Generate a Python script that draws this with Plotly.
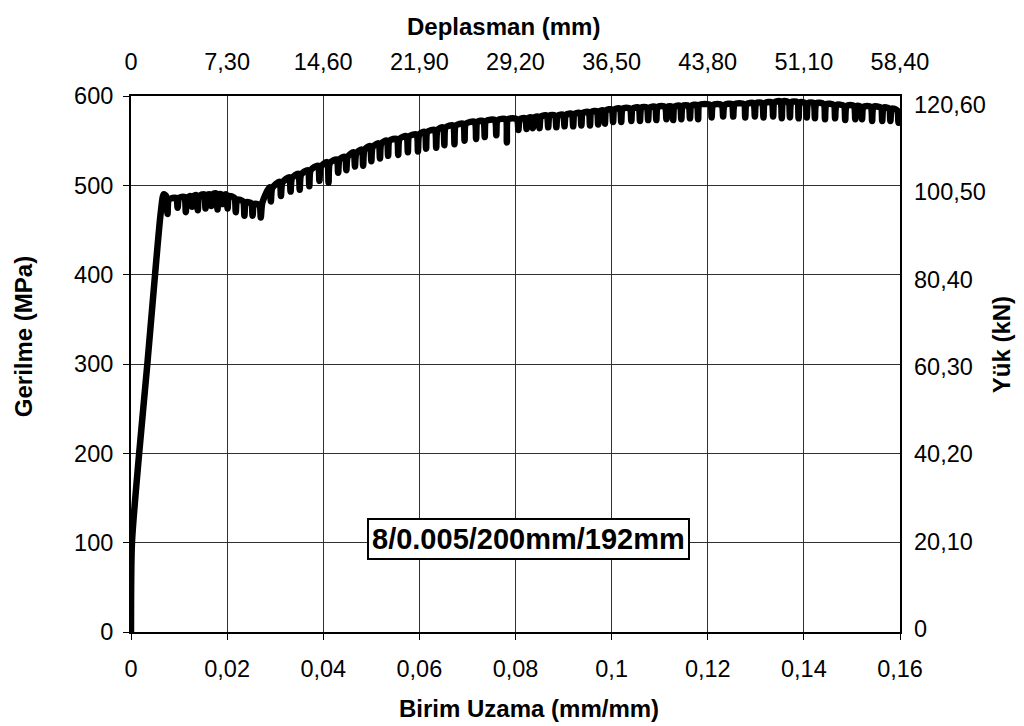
import plotly.graph_objects as go

# ---------------- data ----------------
# elastic part: strain (mm/mm) / stress (MPa)
elastic_strain = [0.0, 0.0002, 0.0017, 0.0034, 0.0050, 0.0062, 0.0068]
elastic_stress = [0, 100, 200, 300, 400, 470, 490]

# yield plateau with serrations
plateau_strain = [0.0073, 0.0076, 0.0079, 0.0094, 0.0097, 0.0100, 0.0111, 0.0114, 0.0117,
                  0.0124, 0.0127, 0.0130, 0.0136, 0.0139, 0.0142, 0.0152, 0.0155, 0.0158,
                  0.0164, 0.0167, 0.0170, 0.0177, 0.0180, 0.0183, 0.0187, 0.0190, 0.0193,
                  0.0198, 0.0201, 0.0204, 0.0215, 0.0218, 0.0221, 0.0233, 0.0236, 0.0239,
                  0.0250, 0.0253, 0.0256, 0.0267, 0.0270, 0.0273]
plateau_stress = [488, 468, 484, 486, 475, 486, 487, 470, 486,
                  488, 476, 488, 489, 472, 488, 490, 474, 489,
                  490, 477, 490, 491, 473, 490, 490, 479, 489,
                  490, 474, 488, 486, 470, 484, 482, 466, 481,
                  480, 466, 479, 478, 464, 480]

# strain hardening with serrations
hard_strain = [
    0.0288, 0.0291, 0.0294, 0.0309, 0.0312, 0.0315, 0.0329, 0.0332, 0.0335,
    0.0348, 0.0351, 0.0354, 0.0368, 0.0371, 0.0374, 0.0389, 0.0392, 0.0395,
    0.0408, 0.0411, 0.0414, 0.0428, 0.0431, 0.0434, 0.0445, 0.0448, 0.0451,
    0.0463, 0.0466, 0.0469, 0.0480, 0.0483, 0.0486, 0.0497, 0.0500, 0.0503,
    0.0515, 0.0518, 0.0521, 0.0532, 0.0535, 0.0538, 0.0553, 0.0556, 0.0559,
    0.0573, 0.0576, 0.0579, 0.0594, 0.0597, 0.0600, 0.0611, 0.0614, 0.0617,
    0.0632, 0.0635, 0.0638, 0.0649, 0.0652, 0.0655, 0.0670, 0.0673, 0.0676,
    0.0691, 0.0694, 0.0697, 0.0715, 0.0718, 0.0721, 0.0733, 0.0736, 0.0739,
    0.0757, 0.0760, 0.0763, 0.0779, 0.0782, 0.0785, 0.0803, 0.0806, 0.0809,
    0.0820, 0.0823, 0.0826, 0.0833, 0.0836, 0.0839, 0.0847, 0.0850, 0.0853,
    0.0865, 0.0868, 0.0871, 0.0882, 0.0885, 0.0888, 0.0899, 0.0902, 0.0905,
    0.0917, 0.0920, 0.0923, 0.0934, 0.0937, 0.0940, 0.0952, 0.0955, 0.0958,
    0.0969, 0.0972, 0.0975, 0.0983, 0.0986, 0.0989, 0.1000, 0.1003, 0.1006,
    0.1017, 0.1020, 0.1023, 0.1038, 0.1041, 0.1044, 0.1056, 0.1059, 0.1062,
    0.1073, 0.1076, 0.1079, 0.1090, 0.1093, 0.1096, 0.1111, 0.1114, 0.1117,
    0.1125, 0.1128, 0.1131, 0.1142, 0.1145, 0.1148, 0.1160, 0.1163, 0.1166,
    0.1177, 0.1180, 0.1183, 0.1205, 0.1208, 0.1211, 0.1229, 0.1232, 0.1235,
    0.1250, 0.1253, 0.1256, 0.1275, 0.1278, 0.1281, 0.1295, 0.1298, 0.1301,
    0.1313, 0.1316, 0.1319, 0.1333, 0.1336, 0.1339, 0.1351, 0.1354, 0.1357,
    0.1368, 0.1371, 0.1374, 0.1386, 0.1389, 0.1392, 0.1403, 0.1406, 0.1409,
    0.1420, 0.1423, 0.1426, 0.1441, 0.1444, 0.1447, 0.1462, 0.1465, 0.1468,
    0.1483, 0.1486, 0.1489, 0.1504, 0.1507, 0.1510, 0.1518, 0.1521, 0.1524,
    0.1539, 0.1542, 0.1545, 0.1560, 0.1563, 0.1566, 0.1577, 0.1580, 0.1583,
    0.1594, 0.1597, 0.1600,
]
hard_stress = [
    498, 482, 497, 504, 488, 503, 509, 493, 508,
    513, 495, 512, 517, 499, 517, 522, 505, 521,
    526, 503, 525, 529, 514, 529, 532, 517, 532,
    537, 521, 536, 540, 522, 540, 544, 527, 543,
    547, 530, 547, 550, 533, 550, 552, 534, 552,
    555, 537, 555, 557, 538, 557, 560, 541, 560,
    562, 542, 562, 565, 545, 565, 567, 546, 567,
    569, 550, 569, 571, 552, 571, 572, 554, 572,
    573, 556, 573, 574, 548, 574, 574, 562, 574,
    575, 563, 575, 576, 564, 576, 577, 564, 577,
    578, 565, 578, 578, 565, 578, 579, 566, 579,
    580, 566, 580, 581, 567, 581, 582, 567, 582,
    583, 568, 583, 584, 569, 584, 585, 571, 585,
    586, 571, 586, 586, 572, 586, 587, 572, 587,
    587, 573, 587, 588, 573, 588, 588, 574, 588,
    588, 573, 588, 589, 574, 589, 589, 575, 589,
    590, 574, 590, 590, 576, 590, 590, 577, 590,
    591, 577, 591, 591, 576, 591, 592, 577, 592,
    592, 576, 592, 593, 577, 593, 594, 575, 594,
    593, 576, 593, 593, 575, 593, 592, 576, 592,
    592, 575, 592, 591, 574, 591, 590, 575, 590,
    589, 573, 589, 589, 574, 589, 588, 574, 588,
    588, 572, 588, 587, 572, 587, 586, 572, 586,
    584, 570, 580,
]

# axes ticks / labels
x_tick_vals = [0, 0.02, 0.04, 0.06, 0.08, 0.10, 0.12, 0.14, 0.16]
x_tick_text = ["0", "0,02", "0,04", "0,06", "0,08", "0,1", "0,12", "0,14", "0,16"]
y_tick_vals = [0, 100, 200, 300, 400, 500, 600]
top_tick_vals = [0, 7.3, 14.6, 21.9, 29.2, 36.5, 43.8, 51.1, 58.4]
top_tick_text = ["0", "7,30", "14,60", "21,90", "29,20", "36,50", "43,80", "51,10", "58,40"]
right_tick_vals = [0, 20.1, 40.2, 60.3, 80.4, 100.5, 120.6]
right_tick_text = ["0", "20,10", "40,20", "60,30", "80,40", "100,50", "120,60"]

label_text = "8/0.005/200mm/192mm"
label_pos = (0.0828, 104)

# ---------------- figure ----------------
FONT = "Liberation Sans, Arial, sans-serif"
strain = elastic_strain + plateau_strain + hard_strain
stress = elastic_stress + plateau_stress + hard_stress

fig = go.Figure()
fig.add_trace(go.Scatter(x=strain, y=stress, mode="lines",
                         line=dict(color="black", width=6.5, shape="spline", smoothing=0.7),
                         showlegend=False, hoverinfo="skip"))
# empty trace to carry the secondary (top / right) axes
fig.add_trace(go.Scatter(x=[None], y=[None], xaxis="x2", yaxis="y2",
                         mode="lines", showlegend=False, hoverinfo="skip"))

tickfont = dict(family=FONT, size=23.5, color="black")
titlefont = dict(family=FONT, size=24, color="black")

fig.update_layout(
    width=1024, height=726,
    margin=dict(l=123, r=132, t=88, b=102),
    paper_bgcolor="white", plot_bgcolor="white",
    xaxis=dict(range=[0, 0.16], tickvals=x_tick_vals, ticktext=x_tick_text,
               showgrid=True, gridcolor="#303030", gridwidth=1,
               showline=True, linecolor="black", linewidth=2, mirror=True,
               ticks="outside", ticklen=6, tickcolor="black",
               ticklabelstandoff=9, tickfont=tickfont, zeroline=False),
    yaxis=dict(range=[0, 600], tickvals=y_tick_vals,
               showgrid=True, gridcolor="#303030", gridwidth=1,
               showline=True, linecolor="black", linewidth=2, mirror=True,
               ticks="outside", ticklen=6, tickcolor="black",
               ticklabelstandoff=5, tickfont=tickfont, zeroline=False),
    xaxis2=dict(range=[0, 58.4], overlaying="x", side="top",
                tickvals=top_tick_vals, ticktext=top_tick_text,
                showgrid=False, showline=False, zeroline=False, ticks="",
                ticklabelstandoff=20, tickfont=tickfont),
    yaxis2=dict(range=[-0.7, 122.6], overlaying="y", side="right",
                tickvals=right_tick_vals, ticktext=right_tick_text,
                showgrid=False, showline=False, zeroline=False, ticks="",
                ticklabelstandoff=13, tickfont=tickfont),
    annotations=[
        dict(text="<b>Deplasman (mm)</b>", xref="paper", yref="paper",
             x=0.484, y=1, yshift=70, showarrow=False,
             xanchor="center", yanchor="middle", font=titlefont),
        dict(text="<b>Birim Uzama (mm/mm)</b>", xref="paper", yref="paper",
             x=0.5176, y=0, yshift=-76, showarrow=False,
             xanchor="center", yanchor="middle", font=titlefont),
        dict(text="<b>Gerilme (MPa)</b>", xref="paper", yref="paper",
             x=0, xshift=-108, y=0.55, textangle=-90, showarrow=False,
             xanchor="center", yanchor="middle", font=titlefont),
        dict(text="<b>Yük (kN)</b>", xref="paper", yref="paper",
             x=1, xshift=101, y=0.535, textangle=-90, showarrow=False,
             xanchor="center", yanchor="middle", font=titlefont),
        dict(text="<b>" + label_text + "</b>", xref="x", yref="y",
             x=label_pos[0], y=label_pos[1], showarrow=False,
             xanchor="center", yanchor="middle",
             font=dict(family=FONT, size=29, color="black"),
             bgcolor="white", bordercolor="black", borderwidth=2, borderpad=3),
    ],
)

fig.write_html("out.html")
